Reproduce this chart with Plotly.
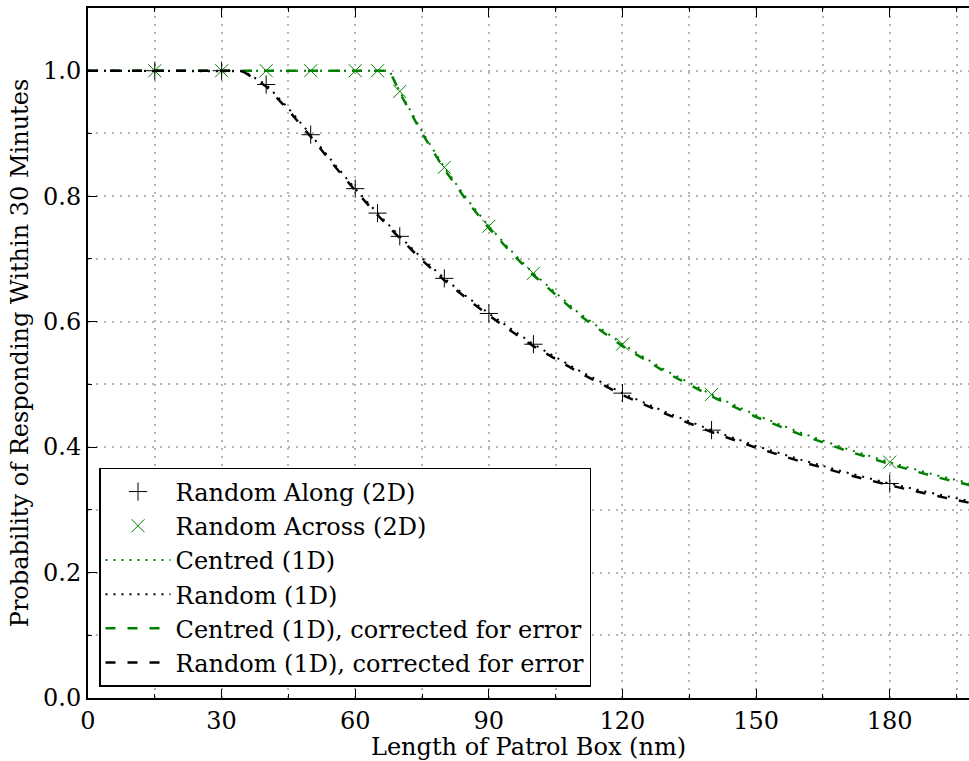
import plotly.graph_objects as go

# Marker series (2D simulations)
along_x = [15, 30, 40, 50, 60, 65, 70, 80, 90, 100, 120, 140, 180]
along_y = [1.0, 1.0, 0.978, 0.898, 0.812, 0.773, 0.736, 0.669, 0.613, 0.564, 0.486, 0.427, 0.342]
across_x = [15, 30, 40, 50, 60, 65, 70, 80, 90, 100, 120, 140, 180]
across_y = [1.0, 1.0, 1.0, 1.0, 1.0, 1.0, 0.967, 0.846, 0.752, 0.677, 0.564, 0.484, 0.376]

# 1D curves
centred_x = [0, 10, 20, 30, 40, 50, 60, 67.7, 70, 75, 80, 85, 90, 95, 100, 110, 120, 130, 140, 150, 160, 170, 180, 190, 200]
centred_y = [1.0, 1.0, 1.0, 1.0, 1.0, 1.0, 1.0, 1.0, 0.967, 0.903, 0.846, 0.796, 0.752, 0.713, 0.677, 0.615, 0.564, 0.521, 0.484, 0.451, 0.423, 0.398, 0.376, 0.356, 0.339]
centred_corr_y = [1.0, 1.0, 1.0, 1.0, 1.0, 1.0, 1.0, 1.0, 0.965, 0.900, 0.843, 0.793, 0.749, 0.710, 0.674, 0.612, 0.561, 0.518, 0.481, 0.448, 0.420, 0.395, 0.373, 0.353, 0.336]
random_x = [0, 10, 20, 30, 34, 35, 40, 45, 50, 55, 60, 65, 70, 75, 80, 85, 90, 95, 100, 110, 120, 130, 140, 150, 160, 170, 180, 190, 200]
random_y = [1.0, 1.0, 1.0, 1.0, 1.0, 0.999, 0.978, 0.940, 0.898, 0.854, 0.812, 0.773, 0.736, 0.701, 0.669, 0.640, 0.613, 0.588, 0.564, 0.523, 0.486, 0.455, 0.427, 0.402, 0.380, 0.360, 0.342, 0.326, 0.311]
random_corr_y = [1.0, 1.0, 1.0, 1.0, 1.0, 0.998, 0.975, 0.937, 0.895, 0.851, 0.809, 0.770, 0.733, 0.698, 0.666, 0.637, 0.610, 0.585, 0.561, 0.520, 0.483, 0.452, 0.424, 0.399, 0.377, 0.357, 0.339, 0.323, 0.308]

x_ticks = [0, 30, 60, 90, 120, 150, 180]
y_ticks = [0.0, 0.2, 0.4, 0.6, 0.8, 1.0]
y_tick_labels = ["0.0", "0.2", "0.4", "0.6", "0.8", "1.0"]

GREEN = "#008000"
FONT = "'DejaVu Serif'"
FS = 24

fig = go.Figure()
fig.add_trace(go.Scatter(x=along_x, y=along_y, mode="markers", name="Random Along (2D)",
                         marker=dict(symbol="cross-thin", size=13, line=dict(color="black", width=1))))
fig.add_trace(go.Scatter(x=across_x, y=across_y, mode="markers", name="Random Across (2D)",
                         marker=dict(symbol="x-thin", size=13, line=dict(color=GREEN, width=1))))
fig.add_trace(go.Scatter(x=centred_x, y=centred_y, mode="lines", name="Centred (1D)",
                         line=dict(color=GREEN, width=2, dash="2px,6px")))
fig.add_trace(go.Scatter(x=random_x, y=random_y, mode="lines", name="Random (1D)",
                         line=dict(color="black", width=2, dash="2px,6px")))
fig.add_trace(go.Scatter(x=centred_x, y=centred_corr_y, mode="lines", name="Centred (1D), corrected for error",
                         line=dict(color=GREEN, width=2.5, dash="10px,12px")))
fig.add_trace(go.Scatter(x=random_x, y=random_corr_y, mode="lines", name="Random (1D), corrected for error",
                         line=dict(color="black", width=2.5, dash="10px,12px")))

grid = dict(showgrid=True, gridcolor="#b4b4b4", gridwidth=2, griddash="2px,6px")

fig.update_xaxes(range=[0, 197.8], tickvals=x_ticks, ticks="inside", ticklen=9, tickwidth=1.2,
                 tickcolor="black", showline=True, linecolor="black", linewidth=2, mirror="ticks",
                 zeroline=False, tickfont=dict(family=FONT, size=FS, color="black"),
                 title=dict(text="Length of Patrol Box (nm)", font=dict(family=FONT, size=FS, color="black"), standoff=2),
                 minor=dict(dtick=15, tick0=0, ticks="inside", ticklen=4, tickcolor="black", **grid),
                 **grid)
fig.update_yaxes(range=[0, 1.1], tickvals=y_ticks, ticktext=y_tick_labels, ticks="inside", ticklen=9, tickwidth=1.2,
                 tickcolor="black", showline=True, linecolor="black", linewidth=2, mirror=False,
                 zeroline=False, tickfont=dict(family=FONT, size=FS, color="black"),
                 title=dict(text="Probability of Responding Within 30 Minutes", font=dict(family=FONT, size=FS, color="black"), standoff=8),
                 minor=dict(dtick=0.1, tick0=0, ticks="inside", ticklen=4, tickcolor="black", **grid),
                 **grid)

fig.update_layout(width=969, height=761, margin=dict(l=88, r=0, t=8, b=63),
                  plot_bgcolor="white", paper_bgcolor="white",
                  font=dict(family=FONT, size=FS, color="black"),
                  legend=dict(x=0.0125, y=0.016, xanchor="left", yanchor="bottom",
                              bgcolor="white", bordercolor="black", borderwidth=1.5,
                              font=dict(family=FONT, size=FS, color="black"),
                              tracegroupgap=0, itemwidth=65),
                  showlegend=True)

fig.write_html("out.html")
